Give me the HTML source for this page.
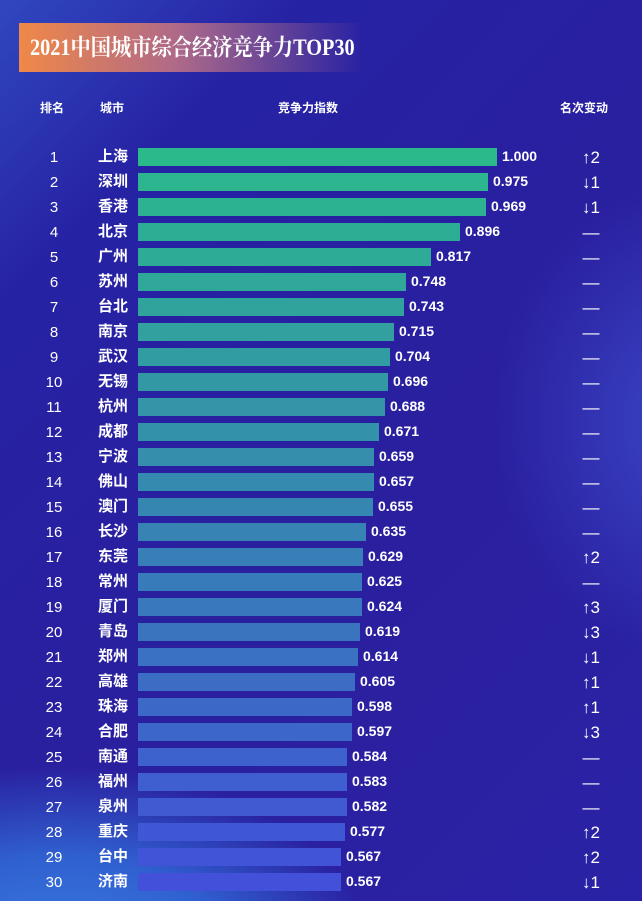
<!DOCTYPE html>
<html><head><meta charset="utf-8"><style>
*{margin:0;padding:0}
body{width:642px;height:901px;overflow:hidden;font-family:"Liberation Sans","Noto Sans CJK SC",sans-serif;color:#fff;
background:radial-gradient(ellipse 420px 260px at 60px 960px,#3a7ee0 0%,#3060d0 40%,rgba(40,40,170,0) 75%),
radial-gradient(ellipse 260px 300px at 700px 420px,#3a48c8 0%,rgba(40,40,170,0) 80%),
linear-gradient(135deg,#3047c0 0%,#2622a4 20%,#2a1f9e 60%,#2a22a6 100%);position:relative}
.title{position:absolute;left:19px;top:23px;width:345px;height:49px;background:linear-gradient(90deg,#f08848 0%,#b06a88 45%,rgba(60,40,170,0) 100%)}
.title span{position:absolute;left:11px;top:10px;line-height:30px;font-family:"Liberation Serif","Noto Serif CJK SC",serif;font-size:23px;font-weight:bold;white-space:nowrap;transform:scaleX(0.88);transform-origin:0 50%}
.h{position:absolute;top:100px;line-height:16px;font-size:12px;font-weight:bold}
.r{position:absolute;height:25px;left:0;width:642px;line-height:18px}
.rk{position:absolute;left:34px;width:40px;text-align:center;font-size:15px;top:1px}
.ct{position:absolute;left:98px;font-size:15px;font-weight:bold;top:0}
.b{position:absolute;left:138px;height:18px;top:0}
.v{position:absolute;font-size:14px;font-weight:bold;top:-1px}
.c{position:absolute;left:576px;width:30px;text-align:center;font-size:17px;top:1px}
</style></head><body>
<div class="title"><span>2021中国城市综合经济竞争力TOP30</span></div>
<div class="h" style="left:40px">排名</div>
<div class="h" style="left:100px">城市</div>
<div class="h" style="left:278px">竞争力指数</div>
<div class="h" style="left:560px">名次变动</div>
<div id="rows"></div>
<script>
var d=[["上海","1.000","↑2"],["深圳","0.975","↓1"],["香港","0.969","↓1"],["北京","0.896","—"],["广州","0.817","—"],["苏州","0.748","—"],["台北","0.743","—"],["南京","0.715","—"],["武汉","0.704","—"],["无锡","0.696","—"],["杭州","0.688","—"],["成都","0.671","—"],["宁波","0.659","—"],["佛山","0.657","—"],["澳门","0.655","—"],["长沙","0.635","—"],["东莞","0.629","↑2"],["常州","0.625","—"],["厦门","0.624","↑3"],["青岛","0.619","↓3"],["郑州","0.614","↓1"],["高雄","0.605","↑1"],["珠海","0.598","↑1"],["合肥","0.597","↓3"],["南通","0.584","—"],["福州","0.583","—"],["泉州","0.582","—"],["重庆","0.577","↑2"],["台中","0.567","↑2"],["济南","0.567","↓1"]];
var h="";
function mix(a,b,t){return Math.round(a+(b-a)*t)}
for(var i=0;i<30;i++){var v=parseFloat(d[i][1]);var w=Math.round(360*v-1);var t=i/29;
var col="rgb("+mix(43,66,t)+","+mix(185,80,t)+","+mix(140,218,t)+")";
h+='<div class="r" style="top:'+(148+i*25)+'px"><div class="rk">'+(i+1)+'</div><div class="ct">'+d[i][0]+'</div><div class="b" style="width:'+w+'px;background:'+col+'"></div><div class="v" style="left:'+(138+w+5)+'px">'+d[i][1]+'</div><div class="c">'+d[i][2]+'</div></div>';}
document.getElementById("rows").innerHTML=h;
</script>
</body></html>
